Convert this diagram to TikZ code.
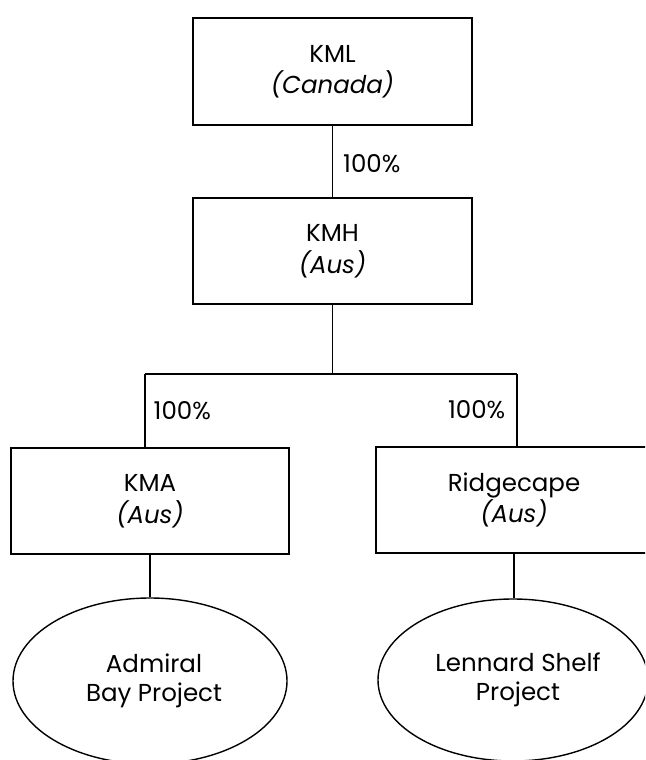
\documentclass[tikz,border=0pt]{standalone}
\usepackage{fontspec}
\setmainfont{Poppins}
\usetikzlibrary{shapes.geometric}
\tikzset{
  ent/.style={draw, line width=1.4pt, rectangle, minimum width=279pt, minimum height=107pt,
    align=center, inner sep=0pt, font=\fontsize{24.5}{31.5}\selectfont},
  proj/.style={draw, line width=1.4pt, ellipse, inner sep=0pt, align=center,
    font=\fontsize{24.5}{29}\selectfont},
  lbl/.style={inner sep=0pt, font=\fontsize{24.5}{29}\selectfont},
  conn/.style={line width=1.4pt}
}
\begin{document}
\begin{tikzpicture}[x=1pt,y=-1pt]
\useasboundingbox (0,0) rectangle (645,760);
\clip (0,0) rectangle (645,760);
\fill[white] (0,0) rectangle (645,760);
\node[ent] (kml) at (332.5,71.5) {KML\\\textit{(Canada)}};
\node[ent, minimum height=106pt] (kmh) at (332.5,251) {KMH\\\textit{(Aus)}};
\node[ent, minimum width=278pt, minimum height=106pt] (kma) at (150,501) {KMA\\\textit{(Aus)}};
\node[ent, minimum width=276pt, minimum height=106pt] (rid) at (514,500) {Ridgecape\\\textit{(Aus)}};
\node[proj, minimum width=274pt, minimum height=166pt] (adm) at (150,681) {\hspace*{8pt}Admiral\\\hspace*{8pt}Bay Project};
\node[proj, minimum width=270pt, minimum height=162pt] (lsp) at (513,680) {\hspace*{10pt}Lennard Shelf\\\hspace*{10pt}Project};
\coordinate (j) at (332.5,374);
\coordinate (jl) at (145,374);
\coordinate (jr) at (517,374);
\draw[conn] (kml) -- node[lbl, pos=0.53, anchor=west, xshift=10pt] {100\%} (kmh);
\draw[conn] (kmh) -- (j);
\draw[conn] (jl) -- (jr);
\draw[conn] (jl) -- node[lbl, anchor=west, xshift=8pt] {100\%} (jl |- kma.north);
\draw[conn] (jr) -- node[lbl, anchor=east, xshift=-11pt] {100\%} (jr |- rid.north);
\draw[conn] (kma) -- (adm);
\draw[conn] (rid.south) -- (rid.south |- lsp.north);
\end{tikzpicture}
\end{document}
